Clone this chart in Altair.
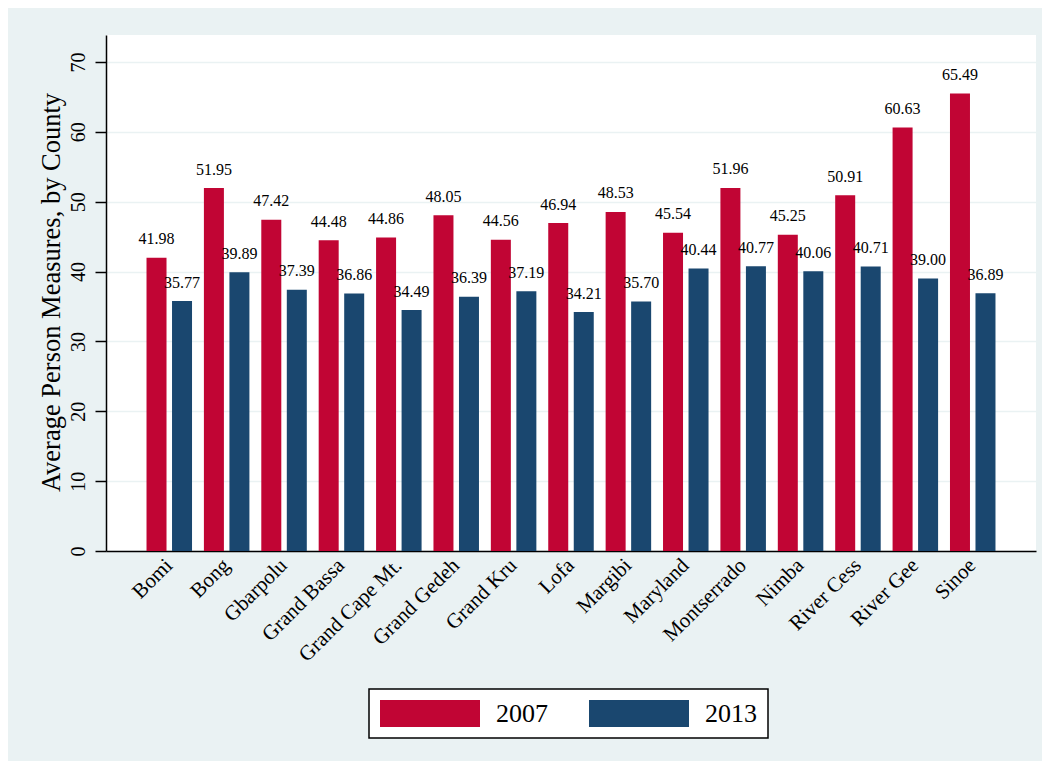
import altair as alt
import pandas as pd

counties = ["Bomi", "Bong", "Gbarpolu", "Grand Bassa", "Grand Cape Mt.", "Grand Gedeh",
            "Grand Kru", "Lofa", "Margibi", "Maryland", "Montserrado", "Nimba",
            "River Cess", "River Gee", "Sinoe"]
values_2007 = [41.98, 51.95, 47.42, 44.48, 44.86, 48.05, 44.56, 46.94, 48.53, 45.54,
               51.96, 45.25, 50.91, 60.63, 65.49]
values_2013 = [35.77, 39.89, 37.39, 36.86, 34.49, 36.39, 37.19, 34.21, 35.70, 40.44,
               40.77, 40.06, 40.71, 39.00, 36.89]
years = ["2007", "2013"]
y_ticks = [0, 10, 20, 30, 40, 50, 60, 70]

rows = []
for c, a, b in zip(counties, values_2007, values_2013):
    rows.append({"county": c, "year": years[0], "value": a})
    rows.append({"county": c, "year": years[1], "value": b})
df = pd.DataFrame(rows)

FONT = "Liberation Serif"
RED = "#C10534"
BLUE = "#1A476F"
BG = "#EAF2F3"

x_enc = alt.X(
    "county:N",
    sort=counties,
    scale=alt.Scale(paddingInner=0.207, paddingOuter=0.706),
    axis=alt.Axis(
        title=None, labelAngle=315, labelAlign="right", labelBaseline="middle",
        labelPadding=11, ticks=False, tickSize=0, labelFontSize=21, labelFont=FONT,
        labelColor="black", domainColor="black", domainWidth=1.5, grid=False,
        labelOverlap=False,
    ),
)
xoff = alt.XOffset("year:N", sort=years, scale=alt.Scale(paddingInner=0.216, paddingOuter=0))
y_enc = alt.Y(
    "value:Q",
    scale=alt.Scale(domain=[0, 73.86], nice=False, zero=True),
    axis=alt.Axis(
        title="Average Person Measures, by County", values=y_ticks,
        labelAngle=270, labelAlign="center", labelBaseline="alphabetic",
        labelPadding=11, tickSize=11, tickColor="black", tickWidth=1.5,
        labelFontSize=20, labelFont=FONT, labelColor="black",
        domainColor="black", domainWidth=1.5,
        grid=True, gridColor=BG, gridWidth=1.5,
        titleFont=FONT, titleFontSize=26.5, titleFontWeight="normal", titleColor="black",
        titleAngle=270, titleAlign="center", titleBaseline="alphabetic",
        titleX=-47, titleY=257,
    ),
)

bars = alt.Chart(df).mark_bar(opacity=1).encode(
    x=x_enc,
    xOffset=xoff,
    y=y_enc,
    color=alt.Color(
        "year:N",
        scale=alt.Scale(domain=years, range=[RED, BLUE]),
        legend=alt.Legend(
            orient="none", legendX=263, legendY=654, direction="horizontal",
            title=None, symbolType="M-1,-0.27H1V0.27H-1Z", symbolSize=10000,
            symbolStrokeWidth=0, clipHeight=27, labelFontSize=26, labelFont=FONT,
            labelColor="black", labelOffset=16, columnPadding=41, padding=11,
            fillColor="white", strokeColor="black", symbolOpacity=1,
        ),
    ),
)

labels = alt.Chart(df).mark_text(
    baseline="alphabetic", align="center", dy=-13.5, fontSize=16, font=FONT, color="black"
).encode(
    x=alt.X("county:N", sort=counties),
    xOffset=alt.XOffset("year:N", sort=years),
    y=alt.Y("value:Q"),
    text=alt.Text("value:Q", format=".2f"),
)

chart = alt.layer(bars, labels).properties(
    width=930,
    height=516,
    padding={"left": 98, "top": 27, "right": 6, "bottom": 210},
    autosize=alt.AutoSizeParams(type="none"),
    background=BG,
).configure_view(
    fill="white", strokeWidth=0
).configure_legend(
    strokeWidth=1.5
)

chart.save("out.html", embed_options={"renderer": "svg", "actions": False})
